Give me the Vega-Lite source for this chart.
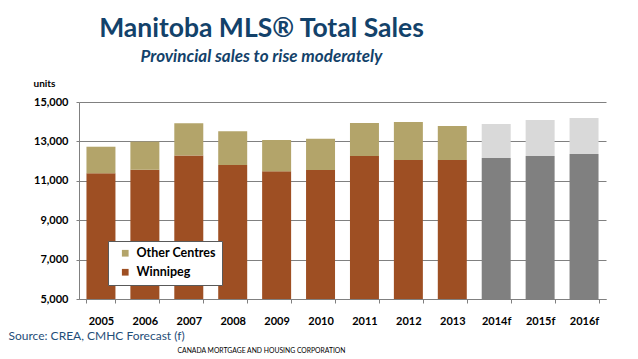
{
  "$schema": "https://vega.github.io/schema/vega-lite/v6.json",
  "autosize": {"type": "none"},
  "width": 527,
  "height": 197,
  "padding": {"left": 79, "top": 102, "right": 32, "bottom": 60},
  "background": "white",
  "config": {"view": {"stroke": null}, "font": "Lato"},
  "title": {
    "text": "Manitoba MLS® Total Sales",
    "subtitle": "Provincial sales to rise moderately",
    "anchor": "middle",
    "frame": "group",
    "dx": -81,
    "offset": 13,
    "font": "Lato",
    "fontSize": 26.5,
    "fontWeight": "bold",
    "color": "#13426A",
    "subtitleFont": "Lato",
    "subtitleFontSize": 17,
    "subtitleFontWeight": "bold",
    "subtitleFontStyle": "italic",
    "subtitleColor": "#13426A",
    "subtitlePadding": 7
  },
  "data": {
    "values": [
      {"year": "2005", "category": "Winnipeg", "stack": 1, "value": 11380},
      {"year": "2005", "category": "Other Centres", "stack": 2, "value": 1350},
      {"year": "2006", "category": "Winnipeg", "stack": 1, "value": 11560},
      {"year": "2006", "category": "Other Centres", "stack": 2, "value": 1430},
      {"year": "2007", "category": "Winnipeg", "stack": 1, "value": 12280},
      {"year": "2007", "category": "Other Centres", "stack": 2, "value": 1640},
      {"year": "2008", "category": "Winnipeg", "stack": 1, "value": 11800},
      {"year": "2008", "category": "Other Centres", "stack": 2, "value": 1710},
      {"year": "2009", "category": "Winnipeg", "stack": 1, "value": 11480},
      {"year": "2009", "category": "Other Centres", "stack": 2, "value": 1590},
      {"year": "2010", "category": "Winnipeg", "stack": 1, "value": 11550},
      {"year": "2010", "category": "Other Centres", "stack": 2, "value": 1590},
      {"year": "2011", "category": "Winnipeg", "stack": 1, "value": 12260},
      {"year": "2011", "category": "Other Centres", "stack": 2, "value": 1670},
      {"year": "2012", "category": "Winnipeg", "stack": 1, "value": 12060},
      {"year": "2012", "category": "Other Centres", "stack": 2, "value": 1930},
      {"year": "2013", "category": "Winnipeg", "stack": 1, "value": 12060},
      {"year": "2013", "category": "Other Centres", "stack": 2, "value": 1720},
      {"year": "2014f", "category": "Winnipeg (forecast)", "stack": 1, "value": 12160},
      {"year": "2014f", "category": "Other Centres (forecast)", "stack": 2, "value": 1720},
      {"year": "2015f", "category": "Winnipeg (forecast)", "stack": 1, "value": 12260},
      {"year": "2015f", "category": "Other Centres (forecast)", "stack": 2, "value": 1830},
      {"year": "2016f", "category": "Winnipeg (forecast)", "stack": 1, "value": 12360},
      {"year": "2016f", "category": "Other Centres (forecast)", "stack": 2, "value": 1830}
    ]
  },
  "resolve": {"axis": {"x": "independent"}},
  "layer": [
    {
      "mark": {"type": "bar", "clip": true},
      "encoding": {
        "x": {
          "field": "year",
          "type": "ordinal",
          "sort": null,
          "scale": {"paddingInner": 0.34, "paddingOuter": 0.17},
          "axis": {
            "orient": "bottom",
            "labelAngle": 0,
            "labelFont": "Lato",
            "labelFontSize": 11,
            "labelFontWeight": "bold",
            "labelColor": "#000000",
            "labelPadding": 12,
            "tickBand": "extent",
            "tickSize": 4,
            "tickColor": "#808080",
            "domainColor": "#808080",
            "grid": false,
            "title": "Source:  CREA, CMHC Forecast (f)",
            "titleFont": "Lato",
            "titleFontSize": 12,
            "titleFontWeight": "normal",
            "titleColor": "#1F4E79",
            "titleAnchor": "start",
            "titleAlign": "left",
            "titleBaseline": "middle",
            "titleX": -71,
            "titleY": 36
          }
        },
        "y": {
          "field": "value",
          "type": "quantitative",
          "stack": "zero",
          "scale": {"domain": [5000, 15000], "nice": false, "zero": false},
          "axis": {
            "values": [5000, 7000, 9000, 11000, 13000, 15000],
            "format": ",d",
            "grid": true,
            "gridColor": "#808080",
            "gridWidth": 1,
            "domainColor": "#808080",
            "tickColor": "#808080",
            "tickSize": 3,
            "labelPadding": 8,
            "labelFont": "Lato",
            "labelFontSize": 11,
            "labelFontWeight": "bold",
            "labelColor": "#000000",
            "title": "units",
            "titleAngle": 0,
            "titleFont": "Lato",
            "titleFontSize": 10,
            "titleFontWeight": "bold",
            "titleColor": "#000000",
            "titleAlign": "left",
            "titleBaseline": "bottom",
            "titleX": -46,
            "titleY": -14
          }
        },
        "order": {"field": "stack", "type": "quantitative"},
        "color": {
          "field": "category",
          "type": "nominal",
          "scale": {
            "domain": ["Other Centres", "Winnipeg", "Other Centres (forecast)", "Winnipeg (forecast)"],
            "range": ["#B3A46A", "#9E4F23", "#D9D9D9", "#808080"]
          },
          "legend": {
            "values": ["Other Centres", "Winnipeg"],
            "title": null,
            "orient": "none",
            "legendX": 29,
            "legendY": 139,
            "direction": "vertical",
            "strokeColor": "#595959",
            "fillColor": "#FFFFFF",
            "padding": 6,
            "symbolType": "square",
            "symbolSize": 45,
            "symbolStrokeWidth": 0,
            "symbolOffset": 5,
            "labelFont": "Lato",
            "labelFontSize": 12.5,
            "labelFontWeight": "bold",
            "labelColor": "#000000",
            "rowPadding": 6,
            "labelOffset": 5
          }
        }
      }
    },
    {
      "mark": {"type": "rule", "opacity": 0},
      "encoding": {
        "x": {
          "field": "year",
          "type": "ordinal",
          "sort": null,
          "axis": {
            "orient": "bottom",
            "labels": false,
            "ticks": false,
            "domain": false,
            "grid": false,
            "title": "CANADA MORTGAGE AND HOUSING CORPORATION",
            "titleFont": "Lato",
            "titleFontSize": 6.8,
            "titleFontWeight": "normal",
            "titleColor": "#000000",
            "titleAnchor": "start",
            "titleAlign": "center",
            "titleBaseline": "middle",
            "titleX": 182,
            "titleY": 51
          }
        }
      }
    }
  ]
}
